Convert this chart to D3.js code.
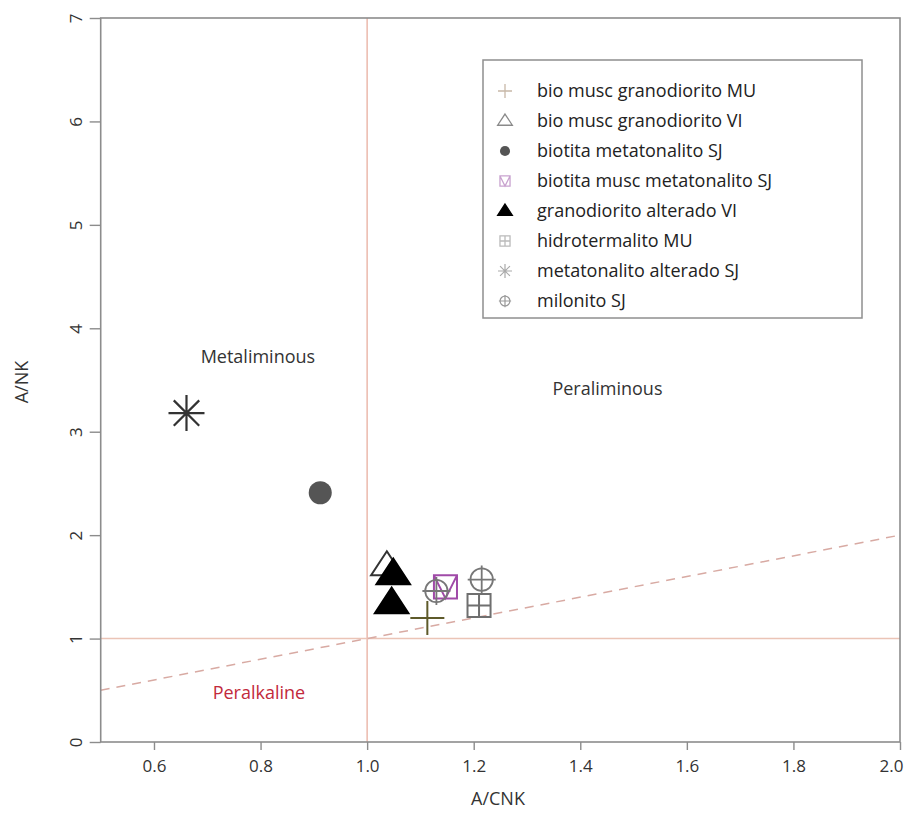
<!DOCTYPE html>
<html><head><meta charset="utf-8">
<script src="https://cdn.jsdelivr.net/npm/d3@7"></script>
<style>body{margin:0;background:#fff}svg text{font-family:"Open Sans",Lato,sans-serif}</style>
</head><body><svg id="c" width="908" height="813"></svg>
<script>
const seriesNames = ["bio musc granodiorito MU","bio musc granodiorito VI","biotita metatonalito SJ","biotita musc metatonalito SJ","granodiorito alterado VI","hidrotermalito MU","metatonalito alterado SJ","milonito SJ"];
const seriesShapes = ["plus","triOpen","circle","squareV","triFilled","grid","asterisk","circlePlus"];
const plotColors = ["#5e5a2a","#333333","#555555","#a04aa8","#000000","#6f6f6f","#333333","#777777"];
const legendColors = ["#c8b8a8","#8a8a8a","#555555","#c9a3cf","#000000","#bbbbbb","#aaaaaa","#999999"];
const pointSeries = [6,2,1,4,4,0,3,7,7,5];
const pointACNK   = [0.661,0.912,1.037,1.049,1.046,1.113,1.147,1.130,1.215,1.210];
const pointANK    = [3.18,2.41,1.70,1.62,1.34,1.20,1.50,1.46,1.57,1.32];
const xTicks = [0.6,0.8,1.0,1.2,1.4,1.6,1.8,2.0];
const yTicks = [0,1,2,3,4,5,6,7];
const regionLabels = [
  {text:"Metaliminous", x:0.795, y:3.665, color:"#333"},
  {text:"Peraliminous", x:1.451, y:3.356, color:"#333"},
  {text:"Peralkaline",  x:0.797, y:0.416, color:"#c22a3c"}
];

const svg = d3.select("#c");
const x = d3.scaleLinear().domain([0.5,2.0]).range([100.7,900]);
const y = d3.scaleLinear().domain([0,7]).range([742,18]);
const axisColor = "#8c8c8c";

// reference lines
svg.append("line").attr("x1",x(1)).attr("x2",x(1)).attr("y1",y(7)).attr("y2",y(0))
  .attr("stroke","#ebb9ad").attr("stroke-width",1.5);
svg.append("line").attr("x1",x(0.5)).attr("x2",x(2)).attr("y1",y(1)).attr("y2",y(1))
  .attr("stroke","#ebc4b6").attr("stroke-width",1.5);
svg.append("line").attr("x1",x(0.5)).attr("x2",x(2)).attr("y1",y(0.5)).attr("y2",y(2))
  .attr("stroke","#d8aaa3").attr("stroke-width",1.5).attr("stroke-dasharray","9,7");

// frame
svg.append("rect").attr("x",x(0.5)).attr("y",y(7)).attr("width",x(2)-x(0.5)).attr("height",y(0)-y(7))
  .attr("fill","none").attr("stroke",axisColor).attr("stroke-width",1.6);

// axes
const xAx = svg.append("g").attr("transform",`translate(0,${y(0)})`)
  .call(d3.axisBottom(x).tickValues(xTicks).tickFormat(d3.format(".1f")).tickSize(8).tickSizeOuter(0));
xAx.select(".domain").remove();
xAx.selectAll("line").attr("stroke",axisColor).attr("stroke-width",1.4);
xAx.selectAll("text").attr("font-size",17).attr("fill","#333").attr("y",18)
  .attr("dx",(d,i)=> i===xTicks.length-1 ? -9 : 0);

const yAx = svg.append("g").attr("transform",`translate(${x(0.5)},0)`)
  .call(d3.axisLeft(y).tickValues(yTicks).tickFormat(d3.format("d")).tickSize(11).tickSizeOuter(0));
yAx.select(".domain").remove();
yAx.selectAll("line").attr("stroke",axisColor).attr("stroke-width",1.4);
yAx.selectAll("text").attr("font-size",17).attr("fill","#333")
  .attr("x",0).attr("dy",0).attr("text-anchor","middle")
  .attr("transform","translate(-19,0) rotate(-90)");

svg.append("text").attr("x",498).attr("y",805).attr("text-anchor","middle")
  .attr("font-size",18).attr("fill","#333").text("A/CNK");
svg.append("text").attr("transform","translate(28,382) rotate(-90)").attr("text-anchor","middle")
  .attr("font-size",18).attr("fill","#333").text("A/NK");

// region labels
svg.selectAll(".rl").data(regionLabels).join("text")
  .attr("x",d=>x(d.x)).attr("y",d=>y(d.y)).attr("text-anchor","middle")
  .attr("font-size",18).attr("fill",d=>d.color).text(d=>d.text);

// symbol drawer
function drawShape(g, shape, s, color){
  const h = s/2;
  const big = s>20;
  if(shape==="plus"){
    g.append("path").attr("d",`M${-h},0H${h}M0,${-h}V${h}`).attr("stroke",color).attr("stroke-width",big?2:1.3).attr("fill","none");
  } else if(shape==="triOpen" || shape==="triFilled"){
    const w = h*1.05, ht = s*0.8;
    g.append("path").attr("d",`M0,${-ht*0.62}L${w},${ht*0.38}L${-w},${ht*0.38}Z`)
      .attr("fill",shape==="triFilled"?color:"none").attr("stroke",color).attr("stroke-width",big?2:1.3);
  } else if(shape==="circle"){
    g.append("circle").attr("r",h*0.72).attr("fill",color);
  } else if(shape==="squareV"){
    const a=h*0.72;
    g.append("path").attr("d",`M${-a},${-a}H${a}V${a}H${-a}ZM${-a},${-a}L0,${a}L${a},${-a}`)
      .attr("fill","none").attr("stroke",color).attr("stroke-width",big?2:1.3);
  } else if(shape==="grid"){
    const a=h*0.72;
    g.append("path").attr("d",`M${-a},${-a}H${a}V${a}H${-a}ZM${-a},0H${a}M0,${-a}V${a}`)
      .attr("fill","none").attr("stroke",color).attr("stroke-width",big?2:1.3);
  } else if(shape==="asterisk"){
    let d="";
    for(let k=0;k<4;k++){const ang=k*Math.PI/4;const c=Math.cos(ang)*h,sn=Math.sin(ang)*h;d+=`M${-c},${-sn}L${c},${sn}`;}
    g.append("path").attr("d",d).attr("stroke",color).attr("stroke-width",big?2.2:1.2).attr("fill","none");
  } else if(shape==="circlePlus"){
    const a=h*0.7;
    g.append("circle").attr("r",a).attr("fill","none").attr("stroke",color).attr("stroke-width",big?1.8:1.2);
    g.append("path").attr("d",`M${-a*1.25},0H${a*1.25}M0,${-a*1.25}V${a*1.25}`).attr("stroke",color).attr("stroke-width",big?1.8:1.2);
  }
}

// points
const pts = pointSeries.map((s,i)=>({s, xv:pointACNK[i], yv:pointANK[i]}));
const sizes = {plus:34,triOpen:30,circle:32,squareV:32,triFilled:32,grid:32,asterisk:36,circlePlus:32};
pts.forEach(p=>{
  const g = svg.append("g").attr("transform",`translate(${x(p.xv)},${y(p.yv)})`);
  drawShape(g, seriesShapes[p.s], sizes[seriesShapes[p.s]], plotColors[p.s]);
});

// legend
const lg = svg.append("g");
lg.append("rect").attr("x",483).attr("y",60).attr("width",379).attr("height",258)
  .attr("fill","#fff").attr("stroke","#8f8f8f").attr("stroke-width",1.5);
seriesNames.forEach((n,i)=>{
  const yy = 91 + i*30;
  const g = lg.append("g").attr("transform",`translate(505,${yy})`);
  drawShape(g, seriesShapes[i], 14, legendColors[i]);
  lg.append("text").attr("x",537).attr("y",yy).attr("dy","0.35em").attr("font-size",18).attr("fill","#222").text(n);
});
</script></body></html>
